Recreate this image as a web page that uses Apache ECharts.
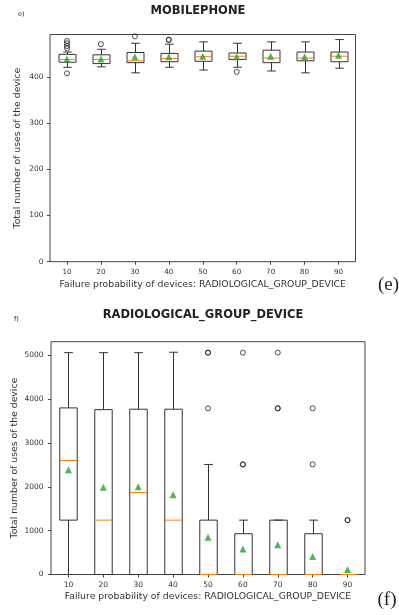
<!DOCTYPE html>
<html>
<head>
<meta charset="utf-8">
<script src="https://cdn.jsdelivr.net/npm/echarts@6/dist/echarts.min.js"></script>
<style>
  html, body { margin: 0; padding: 0; background: #fff; }
  #chart { width: 399px; height: 615px; }
</style>
</head>
<body>
<div id="chart"></div>
<script>
// Failure probability categories (shared by both plots)
const categories = ["10", "20", "30", "40", "50", "60", "70", "80", "90"];

// (e) MOBILEPHONE: [lower whisker, Q1, median, Q3, upper whisker]
const mobileBoxes = [
  [421, 432, 438, 449, 454],
  [422, 429, 438, 448, 460],
  [409, 431, 435, 453, 473],
  [421, 433, 440, 451, 471],
  [415, 434, 444, 456, 476],
  [421, 438, 445, 452, 473],
  [413, 431, 441, 458, 476],
  [409, 435, 441, 454, 476],
  [419, 433, 445, 454, 481]
];
const mobileMeans = [439, 439, 444, 444, 445, 444, 445, 444, 447];
// [category index, value]
const mobileOutliers = [
  [0, 478], [0, 473], [0, 467], [0, 462], [0, 408],
  [1, 471],
  [2, 488],
  [3, 481], [3, 480],
  [5, 411]
];

// (f) RADIOLOGICAL_GROUP_DEVICE
const radioBoxes = [
  [0, 1240, 2600, 3800, 5060],
  [0, 0, 1240, 3760, 5060],
  [0, 0, 1870, 3770, 5060],
  [0, 0, 1240, 3770, 5070],
  [0, 0, 0, 1240, 2510],
  [0, 0, 0, 930, 1240],
  [0, 0, 0, 1240, 1240],
  [0, 0, 0, 930, 1240],
  [0, 0, 0, 0, 0]
];
const radioMeans = [2390, 1990, 2000, 1820, 850, 580, 680, 410, 115];
const radioOutliers = [
  [4, 5060], [4, 5060], [4, 3790],
  [5, 5060], [5, 2510], [5, 2510],
  [6, 5060], [6, 3790], [6, 3790],
  [7, 3790], [7, 2510],
  [8, 1240], [8, 1240]
];

const textColor = "#333";
const frameColor = "#444";
const fontName = "DejaVu Sans";

// matplotlib-like box: half-band box, quarter-band caps, orange median
function renderBox(params, api) {
  let idx = api.value(0);
  let lo = api.coord([idx, api.value(1)]);
  let q1 = api.coord([idx, api.value(2)]);
  let med = api.coord([idx, api.value(3)]);
  let q3 = api.coord([idx, api.value(4)]);
  let hi = api.coord([idx, api.value(5)]);
  let band = api.size([1, 0])[0];
  let half = band * 0.25;
  let cap = band * 0.125;
  let x = Math.round(lo[0]) + 0.5;
  let line = { stroke: "#333", lineWidth: 1 };
  return {
    type: "group",
    children: [
      { type: "line", shape: { x1: x, y1: q3[1], x2: x, y2: hi[1] }, style: line },
      { type: "line", shape: { x1: x, y1: q1[1], x2: x, y2: lo[1] }, style: line },
      { type: "line", shape: { x1: x - cap, y1: hi[1], x2: x + cap, y2: hi[1] }, style: line },
      { type: "line", shape: { x1: x - cap, y1: lo[1], x2: x + cap, y2: lo[1] }, style: line },
      {
        type: "rect",
        shape: { x: x - half, y: q3[1], width: half * 2, height: q1[1] - q3[1] },
        style: { fill: "rgba(0,0,0,0)", stroke: "#333", lineWidth: 1 }
      },
      {
        type: "line",
        shape: { x1: x - half, y1: med[1], x2: x + half, y2: med[1] },
        style: { stroke: "#ff7f0e", lineWidth: 1 }
      }
    ]
  };
}

function boxData(boxes) {
  return boxes.map((b, i) => [i].concat(b));
}

function meanData(means) {
  return means.map((m, i) => [i, m]);
}

function xAxisFor(gridIndex, labelSize, margin, nameGap) {
  return {
    type: "category",
    gridIndex: gridIndex,
    data: categories,
    axisLine: { show: false },
    axisTick: { show: true, alignWithLabel: true, length: 3, lineStyle: { color: frameColor } },
    axisLabel: { color: textColor, fontSize: labelSize, fontFamily: fontName, margin: margin },
    splitLine: { show: false },
    name: "Failure probability of devices: RADIOLOGICAL_GROUP_DEVICE",
    nameLocation: "middle",
    nameGap: nameGap,
    nameMoveOverlap: false,
    nameTextStyle: { color: textColor, fontSize: 9.3, fontFamily: fontName }
  };
}

function yAxisFor(gridIndex, max, interval, labelSize, margin, nameGap) {
  return {
    type: "value",
    gridIndex: gridIndex,
    min: 0,
    max: max,
    interval: interval,
    axisLine: { show: false },
    axisTick: { show: true, length: 3, lineStyle: { color: frameColor } },
    axisLabel: {
      color: textColor,
      fontSize: labelSize,
      fontFamily: fontName,
      margin: margin,
      showMaxLabel: false,
      formatter: (v) => String(v)
    },
    splitLine: { show: false },
    name: "Total number of uses of the device",
    nameLocation: "middle",
    nameGap: nameGap,
    nameMoveOverlap: false,
    nameTextStyle: { color: textColor, fontSize: 9.3, fontFamily: fontName }
  };
}

function seriesFor(axisIndex, boxes, means, outliers) {
  return [
    {
      type: "custom",
      xAxisIndex: axisIndex,
      yAxisIndex: axisIndex,
      renderItem: renderBox,
      encode: { x: 0, y: [1, 2, 3, 4, 5] },
      data: boxData(boxes),
      silent: true
    },
    {
      type: "scatter",
      xAxisIndex: axisIndex,
      yAxisIndex: axisIndex,
      symbol: "circle",
      symbolSize: 5,
      itemStyle: { color: "rgba(0,0,0,0)", borderColor: "#222", borderWidth: 1 },
      data: outliers,
      silent: true
    },
    {
      type: "scatter",
      xAxisIndex: axisIndex,
      yAxisIndex: axisIndex,
      symbol: "triangle",
      symbolSize: 7,
      itemStyle: { color: "#2ca02c" },
      data: meanData(means),
      silent: true,
      z: 5
    }
  ];
}

function label(text, x, y, font, align) {
  return {
    type: "text",
    x: x,
    y: y,
    style: { text: text, font: font, fill: "#222", align: align || "center", verticalAlign: "middle" }
  };
}

const chart = echarts.init(document.getElementById("chart"), null, { renderer: "canvas" });

chart.setOption({
  animation: false,
  backgroundColor: "#fff",
  grid: [
    {
      left: 50, top: 34.5, width: 305.5, height: 227.2,
      outerBoundsMode: "none", containLabel: false,
      show: true, borderColor: frameColor, borderWidth: 1, backgroundColor: "transparent"
    },
    {
      left: 51, top: 341.7, width: 314, height: 232.8,
      outerBoundsMode: "none", containLabel: false,
      show: true, borderColor: frameColor, borderWidth: 1, backgroundColor: "transparent"
    }
  ],
  xAxis: [xAxisFor(0, 7.2, 7, 18.5), xAxisFor(1, 7.5, 6.5, 17.5)],
  yAxis: [yAxisFor(0, 492, 100, 7.5, 6.5, 27.5), yAxisFor(1, 5310, 1000, 7.5, 7.5, 32.3)],
  series: seriesFor(0, mobileBoxes, mobileMeans, mobileOutliers)
    .concat(seriesFor(1, radioBoxes, radioMeans, radioOutliers)),
  graphic: [
    label("e)", 18, 14, "6.5px DejaVu Sans", "left"),
    label("MOBILEPHONE", 198, 11, "bold 11.5px DejaVu Sans"),
    label("(e)", 378, 285, "19px Liberation Serif", "left"),
    label("f)", 14, 319, "6.5px DejaVu Sans", "left"),
    label("RADIOLOGICAL_GROUP_DEVICE", 203, 315, "bold 11.5px DejaVu Sans"),
    label("(f)", 377.5, 600, "19px Liberation Serif", "left")
  ]
});
</script>
</body>
</html>
